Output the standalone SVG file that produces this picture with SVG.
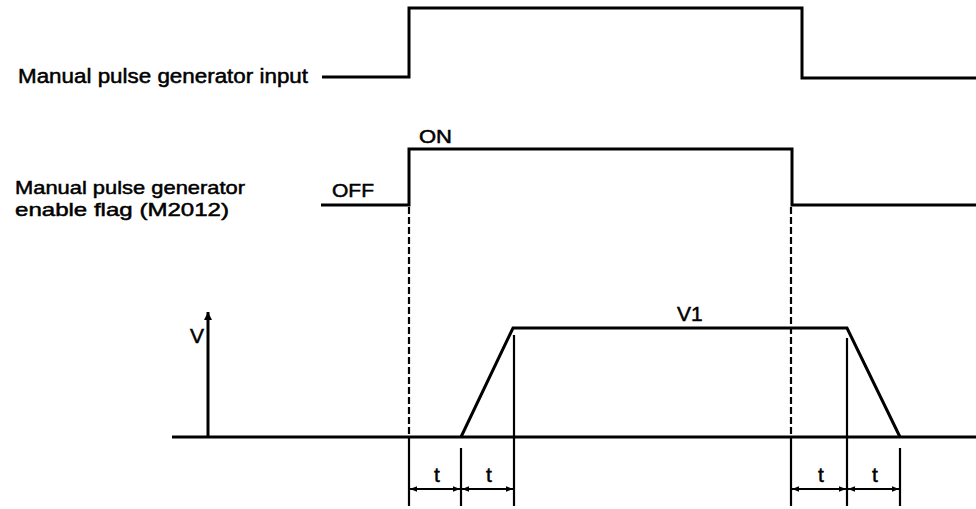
<svg xmlns="http://www.w3.org/2000/svg" width="976" height="509" viewBox="0 0 976 509">
<style>
.lbl{font-family:"Liberation Sans",Arial,sans-serif;font-size:20px;fill:#000;stroke:#000;stroke-width:0.5}
.sm{font-size:19px}
.md{font-size:21px}
.sig{fill:none;stroke:#000;stroke-width:3;stroke-linejoin:miter}
.thin{fill:none;stroke:#000;stroke-width:2.2}
.dash{fill:none;stroke:#000;stroke-width:2.2;stroke-dasharray:7,3}
</style>
<defs>
<marker id="ah" viewBox="0 0 10 10" refX="10" refY="5" markerWidth="10" markerHeight="7" markerUnits="userSpaceOnUse" orient="auto-start-reverse">
<path d="M0,1 L10,5 L0,9 Z" fill="#000"/>
</marker>
<marker id="vh" viewBox="0 0 10 10" refX="10" refY="5" markerWidth="14" markerHeight="8" markerUnits="userSpaceOnUse" orient="auto">
<path d="M0,0 L10,5 L0,10 Z" fill="#000"/>
</marker>
</defs>
<rect width="976" height="509" fill="#fff"/>
<g id="input-signal">
<text class="lbl" x="18" y="83" textLength="290" lengthAdjust="spacingAndGlyphs">Manual pulse generator input</text>
<path class="sig" d="M322,77 H409 V8 H802 V78 H976"/>
</g>
<g id="enable-flag">
<text class="lbl sm" x="15" y="194" textLength="230" lengthAdjust="spacingAndGlyphs">Manual pulse generator</text>
<text class="lbl sm" x="15" y="216" textLength="214" lengthAdjust="spacingAndGlyphs">enable flag (M2012)</text>
<text class="lbl sm" x="332" y="197" textLength="42" lengthAdjust="spacingAndGlyphs">OFF</text>
<text class="lbl sm" x="419" y="143" textLength="33" lengthAdjust="spacingAndGlyphs">ON</text>
<path class="sig" d="M321,205 H409 V149 H792 V205 H976"/>
</g>
<g id="speed">
<line class="sig" x1="172" y1="437" x2="976" y2="437"/>
<line class="sig" x1="208" y1="437" x2="208" y2="312" marker-end="url(#vh)"/>
<text class="lbl md" x="190" y="343">V</text>
<path class="sig" d="M461,437 L513,328 H847 L900,437"/>
<text class="lbl md" x="677" y="321">V1</text>
</g>
<g id="connectors">
<line class="dash" x1="409" y1="207" x2="409" y2="437"/>
<line class="dash" x1="791" y1="207" x2="791" y2="437"/>
<line class="thin" x1="409" y1="437" x2="409" y2="506"/>
<line class="thin" x1="791" y1="437" x2="791" y2="506"/>
<line class="thin" x1="461" y1="448" x2="461" y2="506"/>
<line class="thin" x1="514" y1="335" x2="514" y2="506"/>
<line class="thin" x1="847" y1="338" x2="847" y2="506"/>
<line class="thin" x1="900" y1="448" x2="900" y2="506"/>
<line class="thin" x1="410" y1="489" x2="460" y2="489" marker-start="url(#ah)" marker-end="url(#ah)"/>
<line class="thin" x1="462" y1="489" x2="513" y2="489" marker-start="url(#ah)" marker-end="url(#ah)"/>
<line class="thin" x1="792" y1="489" x2="846" y2="489" marker-start="url(#ah)" marker-end="url(#ah)"/>
<line class="thin" x1="848" y1="489" x2="899" y2="489" marker-start="url(#ah)" marker-end="url(#ah)"/>
<text class="lbl md" x="437" y="482" text-anchor="middle">t</text>
<text class="lbl md" x="489" y="482" text-anchor="middle">t</text>
<text class="lbl md" x="821" y="482" text-anchor="middle">t</text>
<text class="lbl md" x="875" y="482" text-anchor="middle">t</text>
</g>
</svg>
